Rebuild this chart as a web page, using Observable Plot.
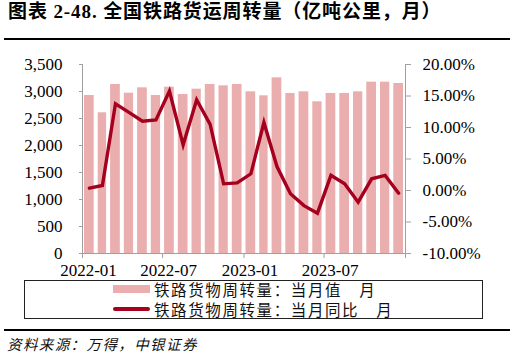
<!DOCTYPE html>
<html>
<head>
<meta charset="utf-8">
<script src="https://cdn.jsdelivr.net/npm/d3@7"></script>
<script src="https://cdn.jsdelivr.net/npm/@observablehq/plot@0.6"></script>
<style>
  html, body { margin: 0; padding: 0; background: #fff; }
  #wrap { position: relative; width: 516px; height: 357px; overflow: hidden; background: #fff; }
  #title { position: absolute; left: 8px; top: 0px; font-family: "Liberation Serif", "Noto Sans CJK SC", serif; font-weight: bold; font-size: 19px; line-height: 24px; white-space: nowrap; color: #000; letter-spacing: 0.9px; }
  .hr { position: absolute; left: 4px; width: 506px; background: #000; }
  #chart { position: absolute; left: 0; top: 40px; }
  #chart svg { overflow: visible; }
  #chart svg text { font-family: "Liberation Serif", "Times New Roman", serif !important; }
  #legend { position: absolute; left: 24px; top: 280px; width: 459px; height: 39px; border: 1px solid #222; box-sizing: border-box; background: #fff; }
  .row { position: absolute; left: 88px; height: 20px; display: flex; align-items: center; font-family: "Noto Sans CJK SC", sans-serif; font-size: 15.5px; letter-spacing: 1.6px; color: #111; white-space: nowrap; }
  .sw { width: 37px; margin-right: 4px; }
  #source { position: absolute; left: 7px; top: 333px; font-family: "Noto Sans CJK SC", sans-serif; font-style: italic; font-size: 14.5px; letter-spacing: 1.4px; color: #111; white-space: nowrap; }
</style>
</head>
<body>
<div id="wrap">
  <div id="title">图表 2-48. 全国铁路货运周转量（亿吨公里，月）</div>
  <div class="hr" style="top:38px;height:1.5px"></div>
  <div id="chart"></div>
  <div id="legend"></div>
  <div class="hr" style="top:329px;height:1.5px"></div>
  <div id="source">资料来源：万得，中银证券</div>
</div>
<script>
const months = ["2022-01","2022-02","2022-03","2022-04","2022-05","2022-06","2022-07","2022-08","2022-09","2022-10","2022-11","2022-12",
                "2023-01","2023-02","2023-03","2023-04","2023-05","2023-06","2023-07","2023-08","2023-09","2023-10","2023-11","2023-12"];
const volume = [2926,2606,3130,2969,3068,2926,3080,2945,3043,3130,3105,3130,
                2994,2920,3253,2963,2994,2809,2963,2963,2994,3173,3173,3148];
const yoy = [0.37,0.79,13.76,12.4,11.0,11.2,15.8,7.25,14.4,10.5,1.06,1.2,
             2.65,10.8,3.8,-0.5,-2.4,-3.6,2.4,1.06,-1.86,1.86,2.4,-0.43];
const leftTicks = [0,500,1000,1500,2000,2500,3000,3500];
const rightTicks = [-10,-5,0,5,10,15,20];
const xTickLabels = ["2022-01","2022-07","2023-01","2023-07"];
const xEnd = "2024-01";
const seriesNames = ["铁路货物周转量：当月值　月","铁路货物周转量：当月同比　月"];
const colors = {bar: "#EAAEAE", line: "#A6001F", axis: "#A0A0A0"};

const parse = d3.utcParse("%Y-%m");
const fmt = d3.utcFormat("%Y-%m");
const leftMax = 3500, rMin = -10, rMax = 20;
const toLeft = p => (p - rMin) / (rMax - rMin) * leftMax;
const fromLeft = v => Math.round(((v / leftMax) * (rMax - rMin) + rMin) * 100) / 100;

const data = months.map((m, i) => {
  const start = parse(m);
  const end = d3.utcMonth.offset(start, 1);
  return {start, end, mid: new Date((+start + +end) / 2), volume: volume[i], yoy: yoy[i], yoyLeft: toLeft(yoy[i])};
});
const x0 = parse(months[0]);
const x1 = parse(xEnd);
const xTickDates = [...xTickLabels, xEnd].map(parse);

const plot = Plot.plot({
  width: 516,
  height: 238,
  marginTop: 24,
  marginBottom: 25,
  marginLeft: 82,
  marginRight: 111,
  style: {fontFamily: "'Liberation Serif', 'Times New Roman', serif", fontSize: "17px", color: "#000", background: "transparent", overflow: "visible"},
  x: {type: "utc", domain: [x0, x1]},
  y: {domain: [0, leftMax]},
  marks: [
    Plot.rectY(data, {x1: "start", x2: "end", y: "volume", fill: colors.bar, insetLeft: 2, insetRight: 2}),
    Plot.ruleY([0], {stroke: colors.axis}),
    Plot.ruleX([x0, x1], {y1: 0, y2: leftMax, stroke: colors.axis}),
    Plot.lineY(data, {x: "mid", y: "yoyLeft", stroke: colors.line, strokeWidth: 3.4, strokeLinejoin: "miter", strokeMiterlimit: 4}),
    Plot.axisY(leftTicks, {anchor: "left", tickSize: 3, tickPadding: 17, stroke: colors.axis, fill: "#000", tickFormat: d3.format(","), label: null}),
    Plot.axisY(rightTicks.map(toLeft), {anchor: "right", tickSize: 5, tickPadding: 12, stroke: colors.axis, fill: "#000", tickFormat: v => fromLeft(v).toFixed(2) + "%", label: null}),
    Plot.axisX(xTickDates, {anchor: "bottom", tickSize: 5, stroke: colors.axis, tickFormat: () => "", label: null}),
    Plot.axisX(xTickLabels.map(parse), {anchor: "bottom", tickSize: 0, tickPadding: 10, dx: 6, fill: "#000", tickFormat: fmt, label: null})
  ]
});
document.getElementById("chart").appendChild(plot);

const legend = document.getElementById("legend");
seriesNames.forEach((name, i) => {
  const row = document.createElement("div");
  row.className = "row";
  row.style.top = (i === 0 ? -2 : 18) + "px";
  const sw = document.createElement("span");
  sw.className = "sw";
  sw.style.height = i === 0 ? "8px" : "3.4px";
  sw.style.background = i === 0 ? colors.bar : colors.line;
  if (i === 1) sw.style.borderRadius = "2px";
  const t = document.createElement("span");
  t.textContent = name;
  row.appendChild(sw);
  row.appendChild(t);
  legend.appendChild(row);
});
</script>
</body>
</html>
